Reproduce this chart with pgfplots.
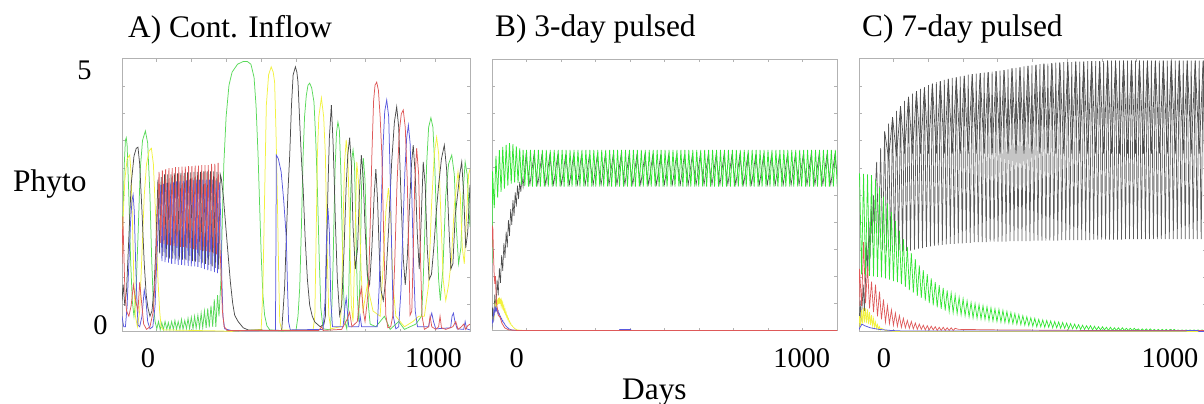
\documentclass[border=0pt]{standalone}
\usepackage{pgfplots}
\pgfplotsset{compat=1.18}
\usepackage{fontspec}
\setmainfont{Liberation Serif}
\definecolor{agreen}{rgb}{0.35,0.85,0.35}
\definecolor{ayellow}{rgb}{0.95,0.95,0.25}
\definecolor{ared}{rgb}{0.87,0.35,0.35}
\definecolor{ablue}{rgb}{0.35,0.35,0.87}
\definecolor{ablack}{rgb}{0.3,0.3,0.3}
\definecolor{bgreen}{rgb}{0.2,0.9,0.2}
\definecolor{cblack}{rgb}{0.36,0.36,0.36}
\pgfplotsset{
  panel/.style={
    scale only axis, width=348bp, height=273bp, anchor=south west,
    xmin=-90, xmax=1130, ymin=0, ymax=5.2,
    axis line style={draw=gray!60, line width=1bp},
    xtick={32,154,276,398,520,642,764,886,1008},
    ytick={0.52,1.04,1.56,2.08,2.6,3.12,3.64,4.16,4.68},
    xticklabels={}, yticklabels={},
    tick align=inside, major tick length=3bp,
    tick style={draw=gray!60, line width=0.8bp},
    xtick pos=both, ytick pos=both,
    every axis plot/.append style={line width=0.75bp, mark=none},
  }
}
\newcommand{\tfont}{\fontsize{31.5}{36}\selectfont}
\newcommand{\nfont}{\fontsize{28.5}{32}\selectfont}
\begin{document}
\begin{tikzpicture}
\useasboundingbox (0,0) rectangle (1204bp,404bp);
% ---------------- Panel A ----------------
\begin{axis}[panel, at={(122bp,72bp)}]
\addplot[agreen] coordinates {(-90,2.0)(-86,2.3)(-82,3.2)(-78,3.65)(-75,3.7)(-72,3.55)(-66,2.6)(-60,1.4)(-54,0.6)(-48,0.3)(-42,0.6)(-34,1.8)(-26,3.1)(-18,3.65)(-8,3.83)(0,3.6)(8,2.6)(14,1.4)(20,0.5)(26,0.2)(32,0.06)
(38,0.2)(44,0.04)(49.5,0.18)(55,0.04)(61,0.2)(67,0.05)(72.5,0.18)(78,0.04)(84,0.2)(90,0.05)(95.5,0.22)(101,0.05)(107,0.2)(113,0.05)(118.5,0.24)(124,0.05)(130,0.22)(136,0.06)(141.5,0.26)(147,0.06)(153,0.28)(159,0.06)(164.5,0.3)(170,0.07)(176,0.32)(182,0.07)(187.5,0.36)(193,0.08)(199,0.4)(205,0.08)(210.5,0.45)(216,0.09)(222,0.5)(228,0.1)(233.5,0.62)(239,0.1)(245,0.7)
(250,0.3)(257,1.0)(262,2.2)(267,3.2)(275,4.1)(285,4.7)(296,4.95)(315,5.1)(334,5.15)(350,5.15)(362,5.1)(373,4.85)(380,4.3)(387,3.37)(392,2.5)(398,1.47)(404,0.7)(410,0.32)(418,0.12)(428,0.04)(470,0.02)(520,0.03)
(527,0.3)(533,0.84)(539,2.0)(545,3.37)(550,4.1)(556,4.5)(562,4.7)(568,4.74)(575,4.65)(583,4.38)(589,3.7)(595,2.74)(601,1.5)(607,0.46)(615,0.06)(640,0.04)(646,0.5)(650,1.3)(653,2.1)(657,3.1)(662,3.8)(667,4.0)(672,3.85)(677,3.1)(681,2.1)(686,0.9)(691,0.2)(698,0.06)(704,0.5)(708,1.6)(712,2.7)(716,3.3)(720,3.47)(725,3.2)(730,2.0)(735,0.7)(740,0.2)
(745,1.2)(750,2.8)(756,3.31)(762,2.9)(768,1.5)(774,0.5)(780,0.15)(800,0.1)(830,0.3)(850,0.05)(880,0.2)(900,0.05)(940,0.15)(960,0.3)
(965,0.8)(972,2.0)(978,3.2)(985,3.9)(993,4.08)(1000,3.9)(1007,3.1)(1013,2.0)(1020,1.0)(1026,0.6)(1035,1.2)(1045,2.6)(1055,3.2)(1066,3.37)(1075,3.0)(1082,2.0)(1090,1.3)(1098,1.6)(1105,2.6)(1113,3.24)(1120,3.0)(1126,2.4)(1130,2.0)};
\addplot[ayellow] coordinates {(-90,1.5)(-86,2.2)(-80,2.9)(-72,3.3)(-63,3.37)(-58,3.0)(-53,2.0)(-48,0.9)(-43,0.3)(-36,0.1)(-28,0.4)(-20,1.5)(-12,2.6)(-4,3.2)(5,3.45)(13,3.5)(20,3.2)(28,2.2)(36,1.0)(42,0.4)(47,0.1)(55,0.04)(250,0.02)(300,0.01)(398,0.05)(404,0.84)(410,2.6)(416,4.32)(424,4.9)(433,5.05)(440,4.95)(445,4.76)(450,3.8)(454,2.74)(459,1.2)(463,0.19)(470,0.04)(580,0.04)(586,0.3)(590,1.6)(595,3.37)(600,4.1)(609,4.46)(617,4.1)(623,3.37)(629,1.6)(635,0.32)(642,0.06)(675,0.1)(680,0.6)(685,2.0)(690,3.2)(696,3.66)(702,3.3)(708,2.0)(714,0.5)(720,0.2)(727,1.8)(733,3.24)(740,2.8)(748,1.2)(755,0.4)(770,0.9)(790,0.4)(815,0.3)(825,1.2)(835,2.3)(844,2.74)(852,2.2)(860,0.9)(870,0.3)(900,0.1)(930,0.2)(950,0.3)(970,0.3)(985,0.9)(995,2.4)(1005,3.4)(1013,3.71)(1020,3.4)(1028,2.2)(1036,1.0)(1045,0.6)(1055,0.9)(1065,1.4)(1075,2.4)(1088,3.05)(1096,2.6)(1103,1.6)(1110,1.3)(1118,2.2)(1125,3.0)(1130,3.1)};
\addplot[ablack] coordinates {(-90,0.6)(-86,0.9)(-80,0.5)(-74,0.8)(-66,1.8)(-58,2.8)(-48,3.35)(-40,3.5)(-34,3.52)(-28,3.2)(-20,2.3)(-12,1.3)(-5,0.7)(1,0.46)(8,0.3)(15,0.4)(22,0.8)(28,1.5)
(36,2.9)(42,1.5)(47.5,2.95)(53,1.45)(59,3.0)(65,1.42)(70.5,3.0)(76,1.4)(82,3.0)(88,1.4)(93.5,3.02)(99,1.4)(105,3.02)(111,1.38)(116.5,3.03)(122,1.38)(128,3.03)(134,1.37)(139.5,3.04)(145,1.36)(151,3.04)(157,1.35)(162.5,3.05)(168,1.34)(174,3.05)(180,1.33)(185.5,3.05)(191,1.32)(197,3.06)(203,1.3)(208.5,3.06)(214,1.28)(220,3.06)(226,1.25)(231.5,3.06)(237,1.22)(243,3.05)(249,1.2)(254.5,3.0)
(258,2.93)(265,2.6)(274,2.0)(282,1.47)(290,0.95)(298,0.55)(305,0.32)(317,0.2)(335,0.08)(352,0.04)(470,0.03)(480,0.84)(486,1.8)(492,2.7)(498,3.37)(504,4.3)(510,4.9)(518,5.05)(523,4.95)(527,4.76)(533,4.0)(539,3.3)(545,2.74)(552,1.8)(560,1.0)(568,0.51)(577,0.3)(586,0.19)(605,0.1)(618,0.15)(623,0.3)(627,1.4)(632,2.74)(637,3.7)(644,4.32)(650,3.6)(654,2.9)(658,2.1)(665,1.0)(673,0.32)(680,0.5)(688,1.5)(696,2.8)(702,3.4)(708,3.7)(714,3.2)(720,2.0)(728,1.2)(736,1.6)(742,2.6)(749,3.37)(755,3.0)(762,2.0)(770,1.1)(778,0.9)(786,1.6)(794,2.6)(800,3.1)(806,2.5)(812,1.5)(818,0.8)(826,0.6)(835,1.0)(845,2.0)(855,3.2)(865,4.0)(873,4.29)(880,3.9)(888,2.6)(896,1.4)(903,0.9)(910,1.4)(918,2.4)(925,3.2)(931,3.56)(938,3.0)(945,1.9)(952,1.2)(958,2.0)(966,3.24)(973,2.8)(980,1.6)(987,1.0)(995,1.1)(1003,1.6)(1012,2.3)(1020,2.8)(1030,3.3)(1040,3.56)(1048,3.1)(1056,2.0)(1063,1.2)(1070,1.3)(1078,2.2)(1086,2.6)(1094,3.0)(1101,3.24)(1108,2.6)(1115,1.6)(1122,1.9)(1130,2.8)};
\addplot[ablue] coordinates {(-90,0.3)(-84,0.1)(-78,0.1)(-72,0.5)(-66,1.3)(-60,2.1)(-55,2.5)(-51,2.61)(-47,2.3)(-42,1.3)(-37,0.5)(-34,0.13)(-28,0.1)(-20,0.3)(-12,0.8)(-6,0.6)(0,0.2)(8,0.06)(18,0.1)(26,0.5)(32,1.4)
(44,2.8)(50,1.35)(55.5,2.82)(61,1.33)(67,2.84)(73,1.32)(78.5,2.85)(84,1.3)(90,2.86)(96,1.3)(101.5,2.87)(107,1.28)(113,2.88)(119,1.28)(124.5,2.88)(130,1.27)(136,2.89)(142,1.26)(147.5,2.9)(153,1.25)(159,2.9)(165,1.25)(170.5,2.9)(176,1.24)(182,2.9)(188,1.22)(193.5,2.9)(199,1.2)(205,2.9)(211,1.18)(216.5,2.9)(222,1.16)(228,2.9)(234,1.14)(239.5,2.88)(245,1.12)(251,2.85)
(256,2.2)(260,1.0)(264,0.3)(270,0.06)(300,0.02)(448,0.03)(450,2.0)(451,3.37)(458,3.3)(468,3.05)(477,2.5)(486,1.79)(490,0.9)(494,0.19)(500,0.04)(615,0.05)(622,0.6)(627,1.8)(632,2.36)(637,1.9)(642,0.6)(648,0.1)(685,0.1)(692,0.5)(696,0.65)(700,0.4)(705,0.1)(740,0.1)(745,0.3)(750,0.1)(805,0.1)(812,0.9)(818,2.2)(824,3.4)(831,4.2)(838,4.42)(845,4.1)(850,3.0)(856,1.4)(861,0.3)(870,0.06)(880,0.1)(888,0.8)(895,2.0)(902,3.1)(908,3.7)(914,3.94)(920,3.6)(926,2.6)(932,1.3)(938,0.4)(946,0.1)(985,0.1)(990,0.25)(996,0.36)(1002,0.2)(1010,0.06)(1062,0.08)(1067,0.3)(1072,0.36)(1077,0.2)(1085,0.06)(1108,0.05)(1113,0.2)(1118,0.06)(1130,0.04)};
\addplot[ared] coordinates {(-90,1.3)(-87,2.2)(-84,1.6)(-80,0.8)(-74,0.4)(-66,0.3)(-58,0.5)(-50,0.9)(-42,0.6)(-34,0.4)(-28,0.95)(-22,0.6)(-14,0.15)(-4,0.05)(8,0.1)(20,0.4)(28,1.2)(34,2.2)
(40,3.05)(46,1.7)(51.5,3.08)(57,1.68)(63,3.1)(69,1.66)(74.5,3.12)(80,1.65)(86,3.12)(92,1.64)(97.5,3.14)(103,1.63)(109,3.14)(115,1.62)(120.5,3.15)(126,1.62)(132,3.15)(138,1.6)(143.5,3.16)(149,1.6)(155,3.16)(161,1.58)(166.5,3.17)(172,1.57)(178,3.17)(184,1.56)(189.5,3.18)(195,1.55)(201,3.18)(207,1.54)(212.5,3.18)(218,1.52)(224,3.2)(230,1.5)(235.5,3.2)(241,1.48)(247,3.22)(253,1.7)
(258,1.0)(262,0.4)(268,0.1)(280,0.03)(600,0.03)(610,0.1)(615,0.03)(680,0.05)(700,0.25)(708,0.38)(716,0.1)(735,0.2)(742,0.6)(749,0.84)(756,0.4)(762,0.2)(768,0.5)(774,0.84)(780,2.0)(786,3.37)(792,4.4)(797,4.7)(803,4.76)(809,4.6)(815,4.1)(821,3.37)(828,1.7)(835,0.32)(842,0.08)(852,0.1)(859,0.3)(866,1.3)(874,2.8)(882,3.8)(889,4.15)(896,4.23)(903,3.9)(910,2.9)(915,1.6)(920,0.32)(926,0.4)(931,1.5)(936,2.8)(943,3.5)(950,3.0)(956,1.5)(962,0.3)(970,0.05)(985,0.1)(990,0.3)(996,0.1)(1010,0.05)(1020,0.1)(1025,0.3)(1030,0.08)(1045,0.05)(1070,0.1)(1080,0.2)(1088,0.05)(1100,0.1)(1108,0.15)(1115,0.05)(1122,0.12)(1130,0.15)};
\end{axis}
% ---------------- Panel B ----------------
\begin{axis}[panel, at={(492bp,73bp)}, width=345bp, height=272bp]
\addplot[ablack, line width=0.6bp] coordinates {(-90,0.05)(-88,0.45)(-84,0.2)(-80,0.7)(-76,0.42)(-72,0.98)(-68,0.68)(-64,1.2)(-60,0.92)(-56,1.45)(-52,1.15)(-48,1.68)(-44,1.4)(-40,1.9)(-36,1.6)(-32,2.12)(-28,1.82)(-24,2.33)(-20,2.03)(-16,2.5)(-12,2.2)(-8,2.65)(-4,2.38)(0,2.78)(4,2.52)(8,2.85)(12,2.66)(16,2.95)(20,2.76)
(30,3.35)(44,2.8)(58,3.35)(72,2.8)(86,3.35)(100,2.8)(114,3.35)(128,2.8)(142,3.35)(156,2.8)(170,3.35)(184,2.8)(198,3.35)(212,2.8)(226,3.35)(240,2.8)(254,3.35)(268,2.8)(282,3.35)(296,2.8)(310,3.35)(324,2.8)(338,3.35)(352,2.8)(366,3.35)(380,2.8)(394,3.35)(408,2.8)(422,3.35)(436,2.8)(450,3.35)(464,2.8)(478,3.35)(492,2.8)(506,3.35)(520,2.8)(534,3.35)(548,2.8)(562,3.35)(576,2.8)(590,3.35)(604,2.8)(618,3.35)(632,2.8)(646,3.35)(660,2.8)(674,3.35)(688,2.8)(702,3.35)(716,2.8)(730,3.35)(744,2.8)(758,3.35)(772,2.8)(786,3.35)(800,2.8)(814,3.35)(828,2.8)(842,3.35)(856,2.8)(870,3.35)(884,2.8)(898,3.35)(912,2.8)(926,3.35)(940,2.8)(954,3.35)(968,2.8)(982,3.35)(996,2.8)(1010,3.35)(1024,2.8)(1038,3.35)(1052,2.8)(1066,3.35)(1080,2.8)(1094,3.35)(1108,2.8)(1122,3.35)(1136,2.8)};
\addplot[bgreen] coordinates {(-90,1.3)(-88,3.05)(-82,2.35)(-76,3.35)(-70,2.55)(-64,3.46)(-58,2.66)(-52,3.52)(-46,2.72)(-40,3.56)(-34,2.78)(-28,3.59)(-22,2.82)(-16,3.57)(-10,2.84)(-4,3.53)(2,2.83)(8,3.49)(14,2.8)(20,3.46)(26,2.77)
(32,3.46)(39,2.76)(46,3.46)(53,2.76)(60,3.46)(67,2.76)(74,3.46)(81,2.76)(88,3.46)(95,2.76)(102,3.46)(109,2.76)(116,3.46)(123,2.76)(130,3.46)(137,2.76)(144,3.46)(151,2.76)(158,3.46)(165,2.76)(172,3.46)(179,2.76)(186,3.46)(193,2.76)(200,3.46)(207,2.76)(214,3.46)(221,2.76)(228,3.46)(235,2.76)(242,3.46)(249,2.76)(256,3.46)(263,2.76)(270,3.46)(277,2.76)(284,3.46)(291,2.76)(298,3.46)(305,2.76)(312,3.46)(319,2.76)(326,3.46)(333,2.76)(340,3.46)(347,2.76)(354,3.46)(361,2.76)(368,3.46)(375,2.76)(382,3.46)(389,2.76)(396,3.46)(403,2.76)(410,3.46)(417,2.76)(424,3.46)(431,2.76)(438,3.46)(445,2.76)(452,3.46)(459,2.76)(466,3.46)(473,2.76)(480,3.46)(487,2.76)(494,3.46)(501,2.76)(508,3.46)(515,2.76)(522,3.46)(529,2.76)(536,3.46)(543,2.76)(550,3.46)(557,2.76)(564,3.46)(571,2.76)(578,3.46)(585,2.76)(592,3.46)(599,2.76)(606,3.46)(613,2.76)(620,3.46)(627,2.76)(634,3.46)(641,2.76)(648,3.46)(655,2.76)(662,3.46)(669,2.76)(676,3.46)(683,2.76)(690,3.46)(697,2.76)(704,3.46)(711,2.76)(718,3.46)(725,2.76)(732,3.46)(739,2.76)(746,3.46)(753,2.76)(760,3.46)(767,2.76)(774,3.46)(781,2.76)(788,3.46)(795,2.76)(802,3.46)(809,2.76)(816,3.46)(823,2.76)(830,3.46)(837,2.76)(844,3.46)(851,2.76)(858,3.46)(865,2.76)(872,3.46)(879,2.76)(886,3.46)(893,2.76)(900,3.46)(907,2.76)(914,3.46)(921,2.76)(928,3.46)(935,2.76)(942,3.46)(949,2.76)(956,3.46)(963,2.76)(970,3.46)(977,2.76)(984,3.46)(991,2.76)(998,3.46)(1005,2.76)(1012,3.46)(1019,2.76)(1026,3.46)(1033,2.76)(1040,3.46)(1047,2.76)(1054,3.46)(1061,2.76)(1068,3.46)(1075,2.76)(1082,3.46)(1089,2.76)(1096,3.46)(1103,2.76)(1110,3.46)(1117,2.76)(1124,3.46)(1131,2.76)};
\addplot[ayellow] coordinates {(-90,0.05)(-88,0.15)(-86,0.2)(-84,0.35)(-82,0.3)(-80,0.48)(-78,0.42)(-76,0.56)(-74,0.48)(-72,0.6)(-70,0.5)(-68,0.63)(-66,0.52)(-64,0.64)(-62,0.52)(-60,0.62)(-58,0.5)(-56,0.58)(-54,0.46)(-52,0.53)(-50,0.42)(-48,0.47)(-46,0.37)(-44,0.41)(-42,0.32)(-40,0.35)(-38,0.27)(-36,0.29)(-34,0.22)(-32,0.24)(-30,0.18)(-28,0.19)(-26,0.14)(-24,0.15)(-22,0.11)(-20,0.11)(-16,0.08)(-12,0.06)(-8,0.04)(-4,0.03)(0,0.02)(20,0.01)(1130,0.01)};
\addplot[ablue] coordinates {(-90,0.05)(-88,0.2)(-86,0.18)(-84,0.38)(-82,0.33)(-80,0.45)(-78,0.39)(-76,0.46)(-74,0.39)(-72,0.42)(-70,0.35)(-68,0.38)(-66,0.31)(-64,0.33)(-62,0.27)(-60,0.28)(-58,0.23)(-56,0.24)(-54,0.19)(-52,0.2)(-50,0.16)(-48,0.16)(-44,0.12)(-40,0.09)(-36,0.07)(-32,0.05)(-28,0.035)(-20,0.02)(0,0.01)(360,0.01)(362,0.03)(400,0.03)(402,0.01)(1130,0.01)};
\addplot[ared] coordinates {(-90,1.6)(-89,2.0)(-87,1.97)(-85,1.5)(-82,1.04)(-80,0.9)(-78,1.05)(-76,0.75)(-74,0.53)(-70,0.4)(-68,0.3)(-62,0.27)(-55,0.15)(-45,0.06)(-30,0.02)(0,0.01)(1130,0.01)};
\end{axis}
% ---------------- Panel C ----------------
\begin{axis}[panel, at={(859bp,72bp)}, width=347bp]
\addplot[cblack, line width=0.7bp] coordinates {(-90,0.1)(-86,0.6)(-83,0.2)(-79,0.5)(-75,0.9)(-71,0.4)(-67,1.0)(-63,1.7)(-59,1.1)(-55,2.1)(-51,1.4)(-47,2.4)(-43,1.7)(-39,2.6)(-35,1.9)(-31,2.9)
(-28,3.24)(-21,1.65)(-14,3.50)(-7,1.56)(0,3.82)(7,1.55)(14,3.97)(21,1.54)(28,4.09)(35,1.53)(42,4.21)(49,1.53)(56,4.30)(63,1.53)(70,4.40)(77,1.54)(84,4.48)(91,1.55)(98,4.54)(105,1.57)(112,4.59)(119,1.59)(126,4.63)(133,1.60)(140,4.66)(147,1.62)(154,4.70)(161,1.63)(168,4.73)(175,1.64)(182,4.76)(189,1.65)(196,4.78)(203,1.66)(210,4.80)(217,1.67)(224,4.82)(231,1.68)(238,4.84)(245,1.68)(252,4.85)(259,1.69)(266,4.87)(273,1.69)(280,4.88)(287,1.70)(294,4.90)(301,1.70)(308,4.91)(315,1.71)(322,4.92)(329,1.71)(336,4.93)(343,1.71)(350,4.94)(357,1.71)(364,4.95)(371,1.72)(378,4.96)(385,1.72)(392,4.97)(399,1.72)(406,4.98)(413,1.72)(420,4.99)(427,1.72)(434,5.00)(441,1.73)(448,5.02)(455,1.73)(462,5.03)(469,1.73)(476,5.04)(483,1.73)(490,5.06)(497,1.73)(504,5.07)(511,1.73)(518,5.08)(525,1.74)(532,5.09)(539,1.74)(546,5.10)(553,1.74)(560,5.11)(567,1.74)(574,5.11)(581,1.74)(588,5.12)(595,1.74)(602,5.13)(609,1.74)(616,5.13)(623,1.75)(630,5.14)(637,1.75)(644,5.14)(651,1.75)(658,5.14)(665,1.75)(672,5.15)(679,1.75)(686,5.15)(693,1.75)(700,5.15)(707,1.75)(714,5.16)(721,1.75)(728,5.16)(735,1.76)(742,5.16)(749,1.76)(756,5.16)(763,1.76)(770,5.16)(777,1.76)(784,5.17)(791,1.76)(798,5.17)(805,1.76)(812,5.17)(819,1.76)(826,5.17)(833,1.76)(840,5.17)(847,1.77)(854,5.17)(861,1.77)(868,5.17)(875,1.77)(882,5.17)(889,1.77)(896,5.17)(903,1.77)(910,5.17)(917,1.77)(924,5.17)(931,1.77)(938,5.17)(945,1.77)(952,5.17)(959,1.77)(966,5.17)(973,1.77)(980,5.17)(987,1.77)(994,5.17)(1001,1.77)(1008,5.17)(1015,1.77)(1022,5.17)(1029,1.77)(1036,5.17)(1043,1.77)(1050,5.17)(1057,1.77)(1064,5.17)(1071,1.77)(1078,5.17)(1085,1.77)(1092,5.17)(1099,1.77)(1106,5.17)(1113,1.77)(1120,5.17)(1127,1.77)(1134,5.17)};
\addplot[ablack, line width=0.7bp] coordinates {(0,3.82)(14,3.3)(28,4.09)(42,3.35)(56,4.30)(70,3.4)(84,4.48)(98,3.4)(112,4.59)(126,3.4)(140,4.66)(154,3.4)(168,4.73)(182,3.4)(196,4.78)(210,3.4)(224,4.82)(238,3.4)(252,4.85)(266,3.4)(280,4.88)(294,3.4)(308,4.91)(322,3.4)(336,4.93)(350,3.4)(364,4.95)(378,3.4)(392,4.97)(406,3.4)(420,4.99)(434,3.4)(448,5.02)(462,3.4)(476,5.04)(490,3.4)(504,5.07)(518,3.4)(532,5.09)(546,3.4)(560,5.11)(574,3.4)(588,5.12)(602,3.4)(616,5.13)(630,3.4)(644,5.14)(658,3.4)(672,5.15)(686,3.4)(700,5.15)(714,3.4)(728,5.16)(742,3.4)(756,5.16)(770,3.4)(784,5.17)(798,3.4)(812,5.17)(826,3.4)(840,5.17)(854,3.4)(868,5.17)(882,3.4)(896,5.17)(910,3.4)(924,5.17)(938,3.4)(952,5.17)(966,3.4)(980,5.17)(994,3.4)(1008,5.17)(1022,3.4)(1036,5.17)(1050,3.4)(1064,5.17)(1078,3.4)(1092,5.17)(1106,3.4)(1120,5.17)(1134,3.4)};
\addplot[bgreen, line width=0.7bp] coordinates {(-90,2.9)(-88,3.02)(-81,1.10)(-74,3.01)(-67,1.08)(-60,3.00)(-53,1.07)(-46,2.99)(-39,1.06)(-32,2.90)(-25,1.05)(-18,2.75)(-11,1.04)(-4,2.58)(3,1.02)(10,2.45)(17,1.00)(24,2.29)(31,0.97)(38,2.11)(45,0.95)(52,1.93)(59,0.91)(66,1.77)(73,0.86)(80,1.62)(87,0.80)(94,1.50)(101,0.75)(108,1.39)(115,0.69)(122,1.27)(129,0.65)(136,1.18)(143,0.60)(150,1.10)(157,0.55)(164,1.02)(171,0.51)(178,0.95)(185,0.47)(192,0.89)(199,0.44)(206,0.84)(213,0.41)(220,0.79)(227,0.39)(234,0.74)(241,0.37)(248,0.70)(255,0.35)(262,0.66)(269,0.33)(276,0.63)(283,0.31)(290,0.59)(297,0.29)(304,0.56)(311,0.27)(318,0.54)(325,0.26)(332,0.52)(339,0.25)(346,0.50)(353,0.24)(360,0.48)(367,0.22)(374,0.46)(381,0.21)(388,0.44)(395,0.20)(402,0.43)(409,0.19)(416,0.41)(423,0.18)(430,0.39)(437,0.17)(444,0.37)(451,0.16)(458,0.35)(465,0.15)(472,0.33)(479,0.14)(486,0.31)(493,0.13)(500,0.29)(507,0.12)(514,0.27)(521,0.11)(528,0.26)(535,0.10)(542,0.24)(549,0.10)(556,0.23)(563,0.09)(570,0.22)(577,0.09)(584,0.21)(591,0.08)(598,0.20)(605,0.08)(612,0.19)(619,0.07)(626,0.18)(633,0.07)(640,0.17)(647,0.06)(654,0.16)(661,0.06)(668,0.15)(675,0.06)(682,0.14)(689,0.05)(696,0.13)(703,0.05)(710,0.12)(717,0.05)(724,0.12)(731,0.04)(738,0.11)(745,0.04)(752,0.10)(759,0.04)(766,0.10)(773,0.04)(780,0.09)(787,0.03)(794,0.09)(801,0.03)(808,0.08)(815,0.03)(822,0.08)(829,0.03)(836,0.08)(843,0.03)(850,0.07)(857,0.03)(864,0.07)(871,0.03)(878,0.07)(885,0.03)(892,0.06)(899,0.02)(906,0.06)(913,0.02)(920,0.06)(927,0.02)(934,0.06)(941,0.02)(948,0.05)(955,0.02)(962,0.05)(969,0.02)(976,0.05)(983,0.02)(990,0.05)(997,0.02)(1004,0.05)(1011,0.02)(1018,0.05)(1025,0.02)(1032,0.04)(1039,0.02)(1046,0.04)(1053,0.02)(1060,0.04)(1067,0.02)(1074,0.04)(1081,0.02)(1088,0.04)(1095,0.02)(1102,0.04)(1109,0.02)(1116,0.04)(1123,0.02)(1130,0.04)};
\addplot[ared, line width=0.7bp] coordinates {(-90,0.5)(-88,1.2)(-81,0.5)(-74,1.71)(-67,0.55)(-60,1.25)(-53,0.45)(-46,0.96)(-39,0.38)(-32,0.90)(-25,0.30)(-18,0.77)(-11,0.24)(-4,0.62)(3,0.19)(10,0.50)(17,0.16)(24,0.42)(31,0.13)(38,0.36)(45,0.11)(52,0.31)(59,0.09)(66,0.26)(73,0.08)(80,0.22)(87,0.07)(94,0.20)(101,0.06)(108,0.17)(115,0.05)(122,0.15)(129,0.05)(136,0.13)(143,0.04)(150,0.12)(157,0.04)(164,0.11)(171,0.04)(178,0.10)(185,0.03)(192,0.09)(199,0.03)(206,0.09)(213,0.03)(220,0.08)(227,0.03)(234,0.08)(241,0.03)(248,0.07)(260,0.05)(400,0.04)(700,0.03)(1130,0.03)};
\addplot[ayellow] coordinates {(-90,0.1)(-88,0.3)(-84,0.12)(-81,0.42)(-77,0.16)(-74,0.46)(-70,0.18)(-67,0.45)(-63,0.17)(-60,0.43)(-56,0.15)(-53,0.38)(-49,0.13)(-46,0.32)(-42,0.11)(-39,0.25)(-35,0.09)(-32,0.19)(-28,0.07)(-25,0.14)(-21,0.05)(-18,0.10)(-14,0.04)(-11,0.07)(-4,0.05)(3,0.03)(20,0.02)(40,0.01)(1130,0.01)};
\addplot[ablue] coordinates {(-90,0.05)(-80,0.15)(-70,0.12)(-50,0.08)(-20,0.05)(20,0.03)(60,0.02)(1060,0.02)(1065,0.03)(1100,0.03)(1105,0.01)(1130,0.01)};
\end{axis}
% ---------------- Texts ----------------
\node[anchor=base west, font=\tfont, inner sep=0pt] at (128bp,366bp) {A) Cont. Inflow};
\node[anchor=base west, font=\tfont, inner sep=0pt] at (495bp,367bp) {B) 3-day pulsed};
\node[anchor=base west, font=\tfont, inner sep=0pt] at (862bp,367bp) {C) 7-day pulsed};
\node[anchor=base west, font=\tfont, inner sep=0pt] at (13bp,212bp) {Phyto};
\node[anchor=base west, font=\tfont, inner sep=0pt] at (622bp,5bp) {Days};
\node[anchor=base, font=\nfont, inner sep=0pt] at (84.5bp,324bp) {5};
\node[anchor=base, font=\nfont, inner sep=0pt] at (100.5bp,69bp) {0};
\node[anchor=base, font=\nfont, inner sep=0pt] at (148bp,37bp) {0};
\node[anchor=base, font=\nfont, inner sep=0pt] at (433.5bp,37bp) {1000};
\node[anchor=base, font=\nfont, inner sep=0pt] at (516.7bp,37bp) {0};
\node[anchor=base, font=\nfont, inner sep=0pt] at (801.7bp,37bp) {1000};
\node[anchor=base, font=\nfont, inner sep=0pt] at (884bp,37bp) {0};
\node[anchor=base, font=\nfont, inner sep=0pt] at (1170bp,37bp) {1000};
\end{tikzpicture}
\end{document}
